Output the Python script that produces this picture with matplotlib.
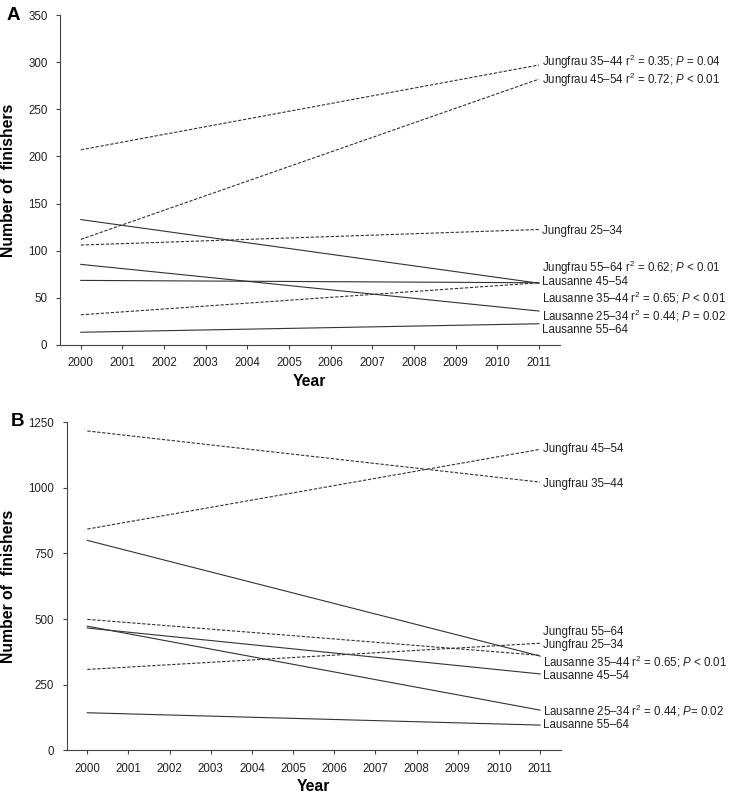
import numpy as np
import matplotlib.pyplot as plt

plt.rcParams['font.family'] = ['Liberation Sans', 'DejaVu Sans']
plt.rcParams['mathtext.fontset'] = 'custom'
plt.rcParams['mathtext.rm'] = 'Liberation Sans'
plt.rcParams['mathtext.it'] = 'Liberation Sans:italic'

years = [2000, 2011]

# panel A: fitted values at 2000 and 2011
a_names = ["Jungfrau 35\u201344", "Jungfrau 45\u201354", "Jungfrau 25\u201334", "Jungfrau 55\u201364",
           "Lausanne 35\u201344", "Lausanne 45\u201354", "Lausanne 25\u201334", "Lausanne 55\u201364"]
a_start = [207, 112, 106, 32, 133, 68.5, 85.5, 13.5]
a_end = [297, 282, 122.5, 66, 65.5, 66, 36, 22.5]
a_stats = ["r$^2$ = 0.35; $\\it{P}$ = 0.04", "r$^2$ = 0.72; $\\it{P}$ < 0.01", "",
           "r$^2$ = 0.62; $\\it{P}$ < 0.01", "r$^2$ = 0.65; $\\it{P}$ < 0.01", "",
           "r$^2$ = 0.44; $\\it{P}$ = 0.02", ""]

# panel B
b_names = a_names
b_start = [1217, 843, 308, 499, 800, 466, 473, 143]
b_end = [1022, 1147, 408, 362, 359, 291, 153, 96]
b_stats = ["", "", "", "", "r$^2$ = 0.65; $\\it{P}$ < 0.01", "",
           "r$^2$ = 0.44; $\\it{P}$= 0.02", ""]

# label heights (data units) so the text does not overlap
a_label_y = [300, 281, 121, 81.5, 49.5, 67, 30.7, 16]
b_label_y = [1015, 1147, 401, 450, 338, 284, 151, 96]

col = '#333333'


def panel(ax, starts, ends, names, stats, label_y, ymax, ystep, letter, letter_xy):
    for s, e, name, st, ly in zip(starts, ends, names, stats, label_y):
        ls = (0, (3, 1.5)) if name.startswith("Jungfrau") else '-'
        ax.plot(years, [s, e], color=col, lw=0.8, linestyle=ls)
        txt = name + (" " + st if st else "")
        ax.text(2011.07, ly, txt, fontsize=8.3, color='#222222', va='center',
                ha='left', clip_on=False)
    ax.set_xlim(1999.5, 2011.5)
    ax.set_ylim(0, ymax)
    ax.set_xticks(range(2000, 2012))
    ax.set_yticks(np.arange(0, ymax + 1, ystep))
    for sp in ['top', 'right']:
        ax.spines[sp].set_visible(False)
    for sp in ['left', 'bottom']:
        ax.spines[sp].set_color('#444444')
        ax.spines[sp].set_linewidth(0.8)
    ax.tick_params(direction='out', length=3, width=0.8, color='#444444',
                   labelsize=8.3, labelcolor='#222222', pad=6)
    ax.set_xlabel("Year", fontsize=11.3, fontweight='bold', labelpad=3)
    ax.set_ylabel("Number of  finishers", fontsize=11.3, fontweight='bold')
    pos = ax.get_position()
    ax.yaxis.set_label_coords(16 / 734, pos.y0 + pos.height / 2,
                              transform=ax.figure.transFigure)
    ax.figure.text(letter_xy[0] / 734, 1 - letter_xy[1] / 798, letter,
                   fontsize=13.5, fontweight='bold', va='center', ha='left')


fig = plt.figure(figsize=(7.34, 7.98), dpi=100)
ax1 = fig.add_axes([0.0817, 0.5677, 0.681, 0.4135])
ax2 = fig.add_axes([0.0909, 0.0598, 0.673, 0.411])

panel(ax1, a_start, a_end, a_names, a_stats, a_label_y, 350, 50, "A", (7, 16))
panel(ax2, b_start, b_end, b_names, b_stats, b_label_y, 1250, 250, "B", (11, 421))

fig.savefig("out.png", dpi=100)
